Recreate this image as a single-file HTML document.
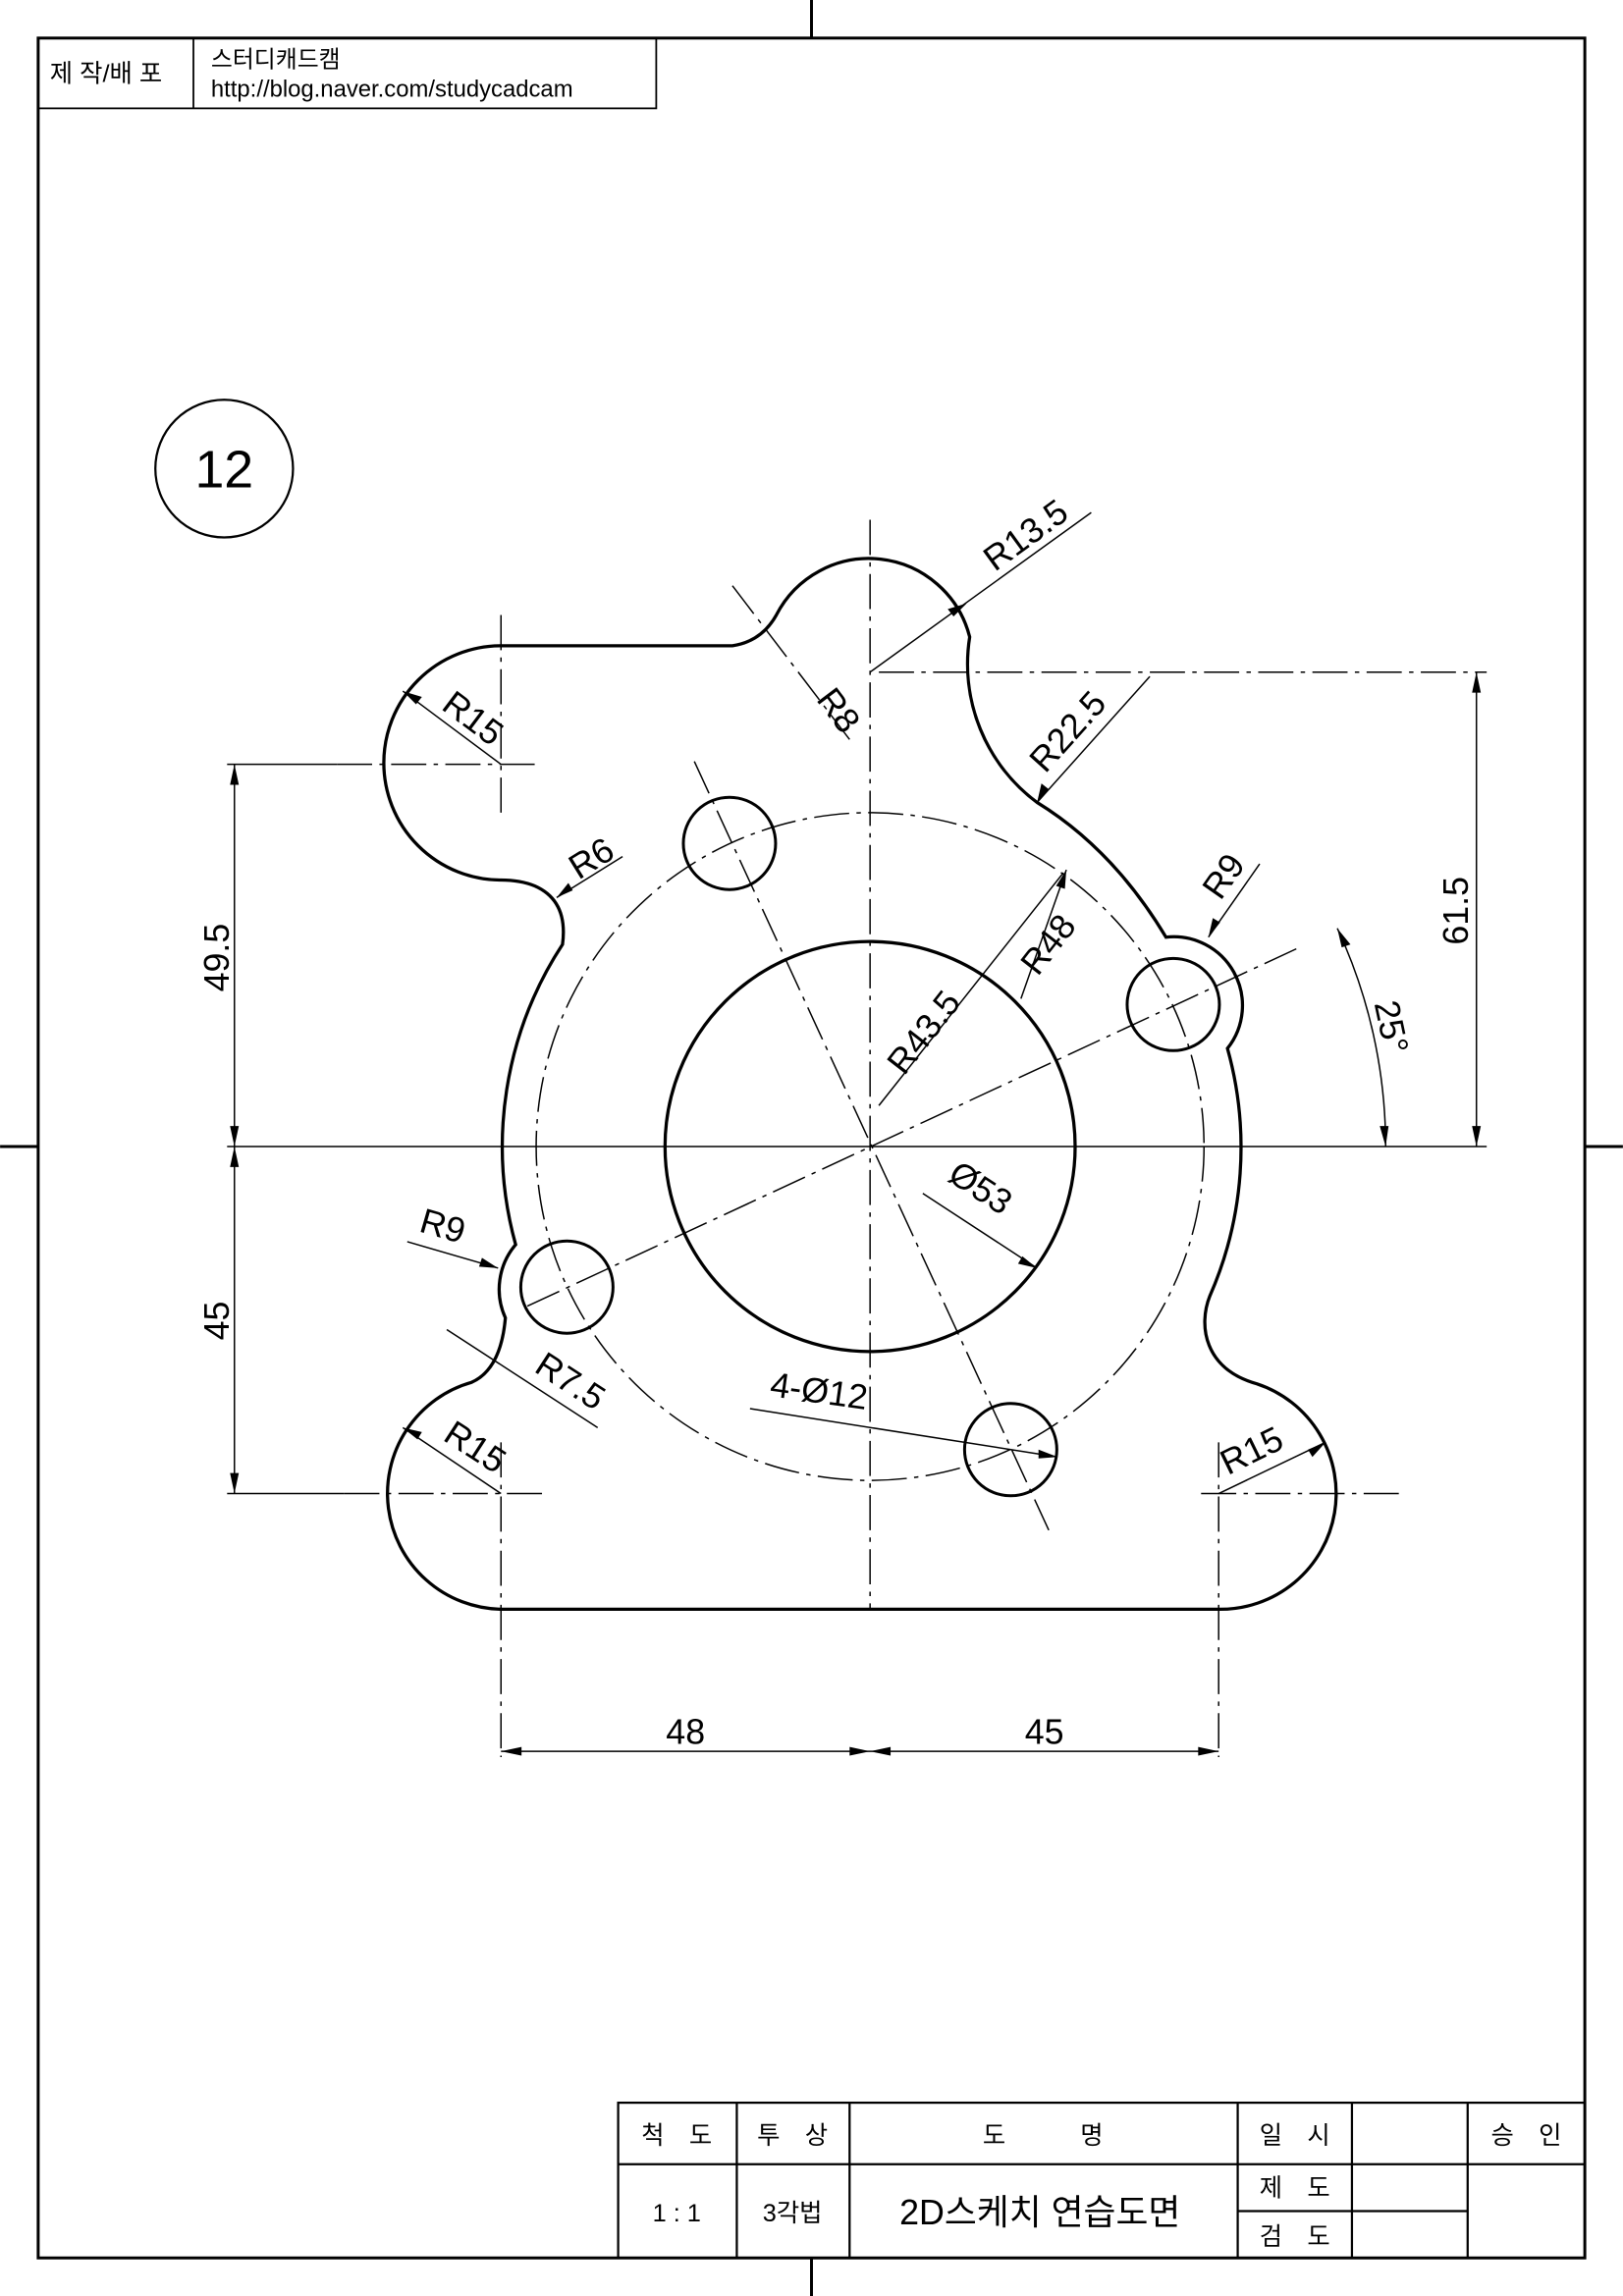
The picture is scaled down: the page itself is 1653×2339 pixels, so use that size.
<!DOCTYPE html>
<html><head><meta charset="utf-8"><style>
html,body{margin:0;padding:0;background:#fff}
svg{display:block}
text{font-family:"Liberation Sans","Noto Sans CJK KR",sans-serif;fill:#000}
</style></head><body>
<svg width="1653" height="2339" viewBox="0 0 1108 1568" xmlns="http://www.w3.org/2000/svg">
<g fill="none" stroke="#000">
<rect x="26" y="26" width="1056" height="1516" stroke-width="2"/>
<line x1="554" y1="0" x2="554" y2="26" stroke-width="2"/>
<line x1="554" y1="1542" x2="554" y2="1568" stroke-width="2"/>
<line x1="0" y1="783" x2="26" y2="783" stroke-width="2"/>
<line x1="1082" y1="783" x2="1108" y2="783" stroke-width="2"/>
<rect x="26" y="26" width="422" height="48" stroke-width="1.2"/>
<line x1="132" y1="26" x2="132" y2="74" stroke-width="1.2"/>
<circle cx="153" cy="320" r="47" stroke-width="1.5"/>
<path stroke-width="2.2" d="M342,441 L500,441 Q520,438 530,420 A71 71 0 0 1 662,435 A118 118 0 0 0 708,548 Q760,580 796,640 A47 47 0 0 1 838,716 A252 252 0 0 1 826,885 C818,905 822,935 858,945 A79 79 0 0 1 832,1099 L342,1099 A79 79 0 0 1 322,944 Q342,935 345,900 A47 47 0 0 1 352,850 A252 252 0 0 1 384,645 Q388,615 365,605 Q355,601 342,601 A79 79 0 1 1 342,441 Z"/>
<circle cx="594" cy="783" r="140" stroke-width="2.2"/>
<circle cx="801" cy="686" r="31.5" stroke-width="2"/>
<circle cx="498" cy="576" r="31.5" stroke-width="2"/>
<circle cx="387" cy="879" r="31.5" stroke-width="2"/>
<circle cx="690" cy="990" r="31.5" stroke-width="2"/>
<g stroke-width="1" stroke-dasharray="24,5,3,5">
<circle cx="594" cy="783" r="228"/>
<line x1="594" y1="355" x2="594" y2="1100"/>
<line x1="360" y1="892" x2="885" y2="648"/>
<line x1="474" y1="520" x2="716" y2="1045"/>
<line x1="500" y1="400" x2="580" y2="505"/>
<line x1="342" y1="420" x2="342" y2="560"/>
<line x1="230" y1="522" x2="370" y2="522"/>
<line x1="342" y1="985" x2="342" y2="1200"/>
<line x1="832" y1="985" x2="832" y2="1200"/>
<line x1="235" y1="1020" x2="370" y2="1020"/>
<line x1="820" y1="1020" x2="955" y2="1020"/>
<line x1="600" y1="459" x2="1015" y2="459"/>
</g>
<g stroke-width="1">
<line x1="155" y1="522" x2="230" y2="522"/>
<line x1="155" y1="1020" x2="235" y2="1020"/>
<line x1="155" y1="783" x2="1015" y2="783"/>
<line x1="160" y1="522" x2="160" y2="1020"/>
<line x1="1008" y1="459" x2="1008" y2="783"/>
<line x1="342" y1="1196" x2="832" y2="1196"/>
<path d="M946,783 A352 352 0 0 0 913,634"/>
<line x1="594" y1="459" x2="745" y2="350"/>
<line x1="708" y1="548" x2="785" y2="462"/>
<line x1="342" y1="522" x2="275" y2="472"/>
<line x1="380" y1="613" x2="425" y2="585"/>
<line x1="825" y1="640" x2="860" y2="590"/>
<line x1="697" y1="682" x2="728" y2="594"/>
<line x1="600" y1="755" x2="726" y2="596"/>
<line x1="630" y1="815" x2="708" y2="866"/>
<line x1="278" y1="848" x2="340" y2="866"/>
<line x1="305" y1="908" x2="408" y2="975"/>
<line x1="275" y1="975" x2="342" y2="1020"/>
<line x1="832" y1="1020" x2="905" y2="985"/>
<line x1="512" y1="962" x2="722" y2="995"/>
</g>
<g stroke-width="1.5">
<rect x="422" y="1436" width="660" height="106"/>
<line x1="422" y1="1478" x2="1082" y2="1478"/>
<line x1="503" y1="1436" x2="503" y2="1542"/>
<line x1="580" y1="1436" x2="580" y2="1542"/>
<line x1="845" y1="1436" x2="845" y2="1542"/>
<line x1="923" y1="1436" x2="923" y2="1542"/>
<line x1="1002" y1="1436" x2="1002" y2="1542"/>
<line x1="845" y1="1510" x2="1002" y2="1510"/>
</g>
</g>
<g fill="#000">
<path d="M160,522 l-3,14 h6z"/><path d="M160,783 l-3,-14 h6z"/><path d="M160,783 l-3,14 h6z"/><path d="M160,1020 l-3,-14 h6z"/>
<path d="M1008,459 l-3,14 h6z"/><path d="M1008,783 l-3,-14 h6z"/>
<path d="M342,1196 l14,-3 v6z"/><path d="M594,1196 l-14,-3 v6z"/><path d="M594,1196 l14,-3 v6z"/><path d="M832,1196 l-14,-3 v6z"/>
<path d="M946,783 l-4,-14 l6,0z"/>
<path d="M913,634 l9,11 l-6,2z"/>
<path d="M660,412 l-13,4 l4,5z"/>
<path d="M708,548 l3,-13 l5,4z"/>
<path d="M275,472 l13,4 l-4,5z"/>
<path d="M380,613 l8,-10 l3,5z"/>
<path d="M825,640 l3,-13 l5,3z"/>
<path d="M728,594 l-1,13 l-6,-2z"/>
<path d="M708,866 l-13,-3 l3,-5z"/>
<path d="M340,866 l-13,-1 l2,-6z"/>
<path d="M275,975 l13,3 l-3,5z"/>
<path d="M905,985 l-9,10 l-3,-5z"/>
<path d="M722,995 l-13,-5 v6z"/>
</g>
<g font-size="24">
<text x="153" y="333" font-size="36" text-anchor="middle">12</text>
<text x="468" y="1191" text-anchor="middle">48</text>
<text x="713" y="1191" text-anchor="middle">45</text>
<text transform="translate(156,654) rotate(-90)" text-anchor="middle">49.5</text>
<text transform="translate(156,902) rotate(-90)" text-anchor="middle">45</text>
<text transform="translate(1002,622) rotate(-90)" text-anchor="middle">61.5</text>
<text transform="translate(942,703) rotate(78)" text-anchor="middle">25°</text>
<text transform="translate(705,372) rotate(-36)" text-anchor="middle">R13.5</text>
<text transform="translate(566,490) rotate(53)" text-anchor="middle">R8</text>
<text transform="translate(735,505) rotate(-48)" text-anchor="middle">R22.5</text>
<text transform="translate(318,497) rotate(37)" text-anchor="middle">R15</text>
<text transform="translate(408,593) rotate(-32)" text-anchor="middle">R6</text>
<text transform="translate(842,603) rotate(-55)" text-anchor="middle">R9</text>
<text transform="translate(722,650) rotate(-52)" text-anchor="middle">R48</text>
<text transform="translate(637,710) rotate(-52)" text-anchor="middle">R43.5</text>
<text transform="translate(665,818) rotate(33)" text-anchor="middle">Ø53</text>
<text transform="translate(300,845) rotate(16)" text-anchor="middle">R9</text>
<text transform="translate(385,950) rotate(33)" text-anchor="middle">R7.5</text>
<text transform="translate(320,995) rotate(33)" text-anchor="middle">R15</text>
<text transform="translate(858,998) rotate(-26)" text-anchor="middle">R15</text>
<text transform="translate(558,958) rotate(8)" text-anchor="middle">4-Ø12</text>
</g>
<g font-size="17">
<text x="34" y="56">제 작/배 포</text>
<text x="144" y="46" font-size="16">스터디캐드캠</text>
<text x="144" y="66" font-size="16">http://blog.naver.com/studycadcam</text>
<text x="462" y="1464" text-anchor="middle">척　도</text>
<text x="541" y="1464" text-anchor="middle">투　상</text>
<text x="712" y="1464" text-anchor="middle">도　　　명</text>
<text x="884" y="1464" text-anchor="middle">일　시</text>
<text x="1042" y="1464" text-anchor="middle">승　인</text>
<text x="462" y="1517" text-anchor="middle">1 : 1</text>
<text x="541" y="1517" text-anchor="middle">3각법</text>
<text x="710" y="1519" text-anchor="middle" font-size="24">2D스케치 연습도면</text>
<text x="884" y="1500" text-anchor="middle">제　도</text>
<text x="884" y="1533" text-anchor="middle">검　도</text>
</g>
</svg>
</body></html>
